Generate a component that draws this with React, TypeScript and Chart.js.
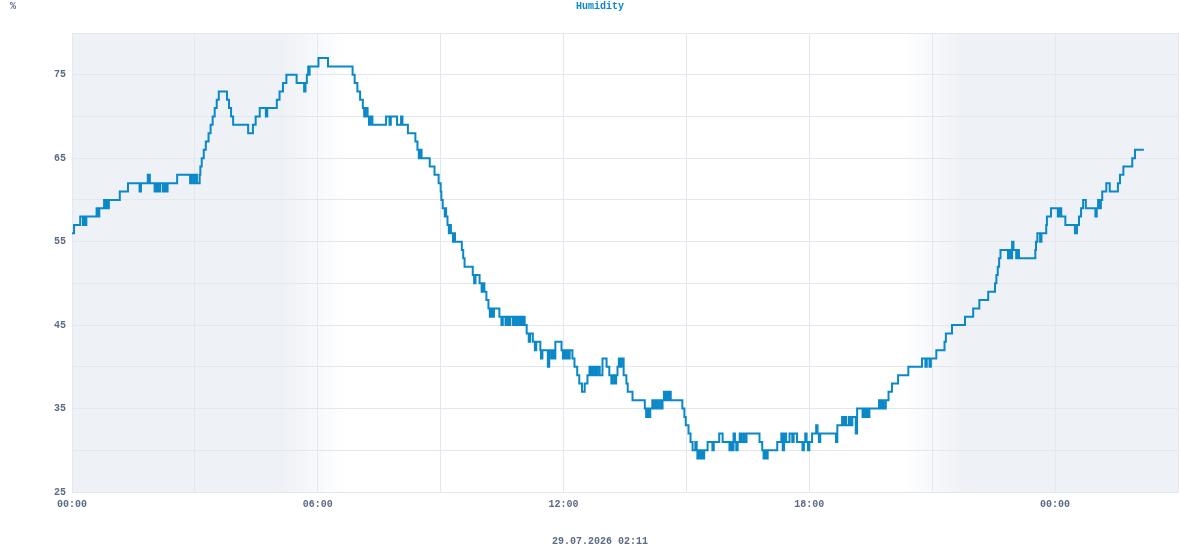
import React, { useEffect, useRef } from "react";
import { Chart, registerables } from "chart.js";

Chart.register(...registerables);

const TITLE = "Humidity";
const UNIT = "%";
const STAMP = "29.07.2026 02:11";

// minutes since 00:00 of the first day
const minutes = [
  0, 3, 12, 16, 18, 20, 21, 36, 38, 40, 47, 49, 51, 53, 54, 70, 82, 99, 101, 111,
  114, 121, 124, 126, 129, 133, 136, 138, 140, 154, 173, 175, 178, 180, 183, 187, 188, 190, 193, 196,
  200, 203, 206, 209, 212, 215, 227, 230, 233, 236, 258, 265, 269, 275, 284, 286, 300, 304, 309, 314,
  329, 340, 342, 344, 346, 347, 348, 361, 375, 411, 414, 418, 422, 426, 428, 430, 433, 435, 437, 440,
  460, 465, 467, 476, 482, 484, 492, 503, 506, 508, 510, 512, 524, 531, 537, 540, 541, 543, 546, 547,
  548, 550, 552, 554, 555, 558, 559, 561, 571, 573, 575, 587, 589, 591, 597, 600, 602, 604, 607, 610,
  612, 614, 616, 618, 626, 629, 631, 635, 637, 640, 642, 646, 648, 651, 653, 656, 658, 660, 661, 663,
  666, 669, 671, 675, 678, 680, 686, 687, 689, 697, 699, 702, 704, 706, 708, 717, 719, 721, 723, 725,
  727, 729, 733, 736, 740, 743, 747, 751, 755, 758, 760, 762, 764, 766, 768, 770, 773, 777, 783, 787,
  790, 792, 795, 797, 799, 801, 803, 805, 808, 812, 814, 821, 839, 841, 843, 845, 847, 850, 852, 855,
  857, 860, 863, 865, 867, 869, 871, 873, 875, 877, 894, 897, 899, 903, 906, 909, 913, 915, 916, 918,
  920, 922, 924, 926, 931, 938, 940, 948, 953, 963, 965, 967, 969, 971, 973, 975, 978, 980, 983, 985,
  988, 1007, 1011, 1013, 1015, 1017, 1019, 1033, 1039, 1041, 1043, 1046, 1051, 1055, 1057, 1062, 1070, 1072, 1074, 1076,
  1078, 1080, 1084, 1090, 1092, 1094, 1096, 1119, 1121, 1128, 1130, 1132, 1134, 1138, 1140, 1143, 1148, 1150, 1158, 1160,
  1162, 1164, 1166, 1168, 1182, 1185, 1187, 1189, 1192, 1196, 1201, 1210, 1225, 1245, 1250, 1252, 1256, 1258, 1266, 1278,
  1280, 1289, 1308, 1320, 1329, 1342, 1352, 1354, 1356, 1358, 1360, 1371, 1373, 1375, 1377, 1379, 1383, 1385, 1387, 1411,
  1412, 1414, 1418, 1420, 1427, 1428, 1434, 1444, 1446, 1449, 1455, 1469, 1472, 1475, 1478, 1481, 1485, 1499, 1501, 1503,
  1505, 1507, 1509, 1515, 1520, 1532, 1535, 1540, 1553, 1557, 1570,
];

const humidity = [
  56, 57, 58, 57, 58, 57, 58, 59, 58, 59, 60, 59, 60, 59, 60, 61, 62, 61, 62, 63,
  62, 61, 62, 61, 62, 61, 62, 61, 62, 63, 62, 63, 62, 63, 62, 63, 64, 65, 66, 67,
  68, 69, 70, 71, 72, 73, 72, 71, 70, 69, 68, 69, 70, 71, 70, 71, 72, 73, 74, 75,
  74, 73, 74, 75, 76, 75, 76, 77, 76, 75, 74, 73, 72, 71, 70, 71, 70, 69, 70, 69,
  70, 69, 70, 69, 70, 69, 68, 67, 66, 65, 66, 65, 64, 63, 62, 61, 60, 59, 58, 59,
  58, 57, 56, 57, 56, 55, 56, 55, 54, 53, 52, 51, 50, 51, 50, 49, 50, 49, 48, 47,
  46, 47, 46, 47, 46, 45, 46, 45, 46, 45, 46, 45, 46, 45, 46, 45, 46, 45, 46, 45,
  44, 43, 44, 43, 42, 43, 42, 41, 42, 40, 42, 41, 42, 41, 43, 42, 41, 42, 41, 42,
  41, 42, 41, 40, 39, 38, 37, 38, 39, 40, 39, 40, 39, 40, 39, 40, 39, 41, 40, 39,
  38, 39, 38, 39, 40, 41, 40, 41, 39, 38, 37, 36, 35, 34, 35, 34, 35, 36, 35, 36,
  35, 36, 35, 36, 37, 36, 37, 36, 37, 36, 35, 34, 33, 32, 31, 30, 31, 30, 29, 30,
  29, 30, 29, 30, 31, 30, 31, 32, 31, 30, 31, 30, 32, 31, 30, 31, 32, 31, 32, 31,
  32, 31, 30, 29, 30, 29, 30, 31, 32, 30, 32, 31, 32, 31, 32, 31, 30, 31, 32, 31,
  30, 31, 32, 33, 32, 31, 32, 31, 33, 34, 33, 34, 33, 34, 33, 34, 32, 35, 34, 35,
  34, 35, 34, 35, 36, 35, 36, 35, 36, 37, 38, 39, 40, 41, 40, 41, 40, 41, 42, 43,
  44, 45, 46, 47, 48, 49, 50, 51, 52, 53, 54, 53, 54, 53, 55, 54, 53, 54, 53, 54,
  55, 56, 55, 56, 57, 58, 59, 58, 59, 58, 57, 56, 57, 58, 59, 60, 59, 58, 59, 60,
  59, 60, 61, 62, 61, 62, 63, 64, 65, 66, 66,
];

// x axis range (minutes) and y axis range (%)
const xRange = [0, 1620];
const yRange = [25, 80];
// night shading: [solid start, fade start, fade end] and [fade start, fade end, solid end] in minutes
const nightMorning = [0, 309, 400];
const nightEvening = [1219, 1304, 1620];

const FONT = "bold 10px 'Liberation Mono', 'Courier New', monospace";
const TEXT_COLOR = "#5b6b87";
const LINE_COLOR = "#0a88c8";
const GRID_COLOR = "#e3e7ef";
const SHADE = "rgba(238,241,246,1)";
const SHADE0 = "rgba(238,241,246,0)";

function fmtTime(v: number) {
  const h = Math.floor(v / 60) % 24;
  const m = Math.round(v % 60);
  return String(h).padStart(2, "0") + ":" + String(m).padStart(2, "0");
}

const shadePlugin = {
  id: "nightShade",
  beforeDraw(chart: any) {
    const { ctx, chartArea, scales } = chart;
    const xs = scales.x;
    const top = chartArea.top;
    const h = chartArea.bottom - chartArea.top;
    ctx.save();
    const a0 = xs.getPixelForValue(nightMorning[0]);
    const a1 = xs.getPixelForValue(nightMorning[1]);
    const a2 = xs.getPixelForValue(nightMorning[2]);
    ctx.fillStyle = SHADE;
    ctx.fillRect(a0, top, a1 - a0, h);
    let g = ctx.createLinearGradient(a1, 0, a2, 0);
    g.addColorStop(0, SHADE);
    g.addColorStop(1, SHADE0);
    ctx.fillStyle = g;
    ctx.fillRect(a1, top, a2 - a1, h);
    const b0 = xs.getPixelForValue(nightEvening[0]);
    const b1 = xs.getPixelForValue(nightEvening[1]);
    const b2 = xs.getPixelForValue(nightEvening[2]);
    g = ctx.createLinearGradient(b0, 0, b1, 0);
    g.addColorStop(0, SHADE0);
    g.addColorStop(1, SHADE);
    ctx.fillStyle = g;
    ctx.fillRect(b0, top, b1 - b0, h);
    ctx.fillStyle = SHADE;
    ctx.fillRect(b1, top, b2 - b1, h);
    ctx.restore();
  },
  afterDraw(chart: any) {
    const { ctx } = chart;
    ctx.save();
    ctx.font = FONT;
    ctx.textBaseline = "middle";
    ctx.fillStyle = TEXT_COLOR;
    ctx.textAlign = "left";
    ctx.fillText(UNIT, 10, 6);
    ctx.textAlign = "center";
    ctx.fillText(STAMP, 600, 541);
    ctx.fillStyle = LINE_COLOR;
    ctx.fillText(TITLE, 600, 6);
    ctx.restore();
  },
};

export default function App() {
  const ref = useRef<HTMLCanvasElement>(null);
  useEffect(() => {
    if (!ref.current) return;
    const points = minutes.map((m, i) => ({ x: m, y: humidity[i] }));
    const chart = new Chart(ref.current, {
      type: "line",
      data: {
        datasets: [
          {
            data: points,
            borderColor: LINE_COLOR,
            borderWidth: 2,
            pointRadius: 0,
            stepped: true,
            fill: false,
            tension: 0,
          },
        ],
      },
      options: {
        animation: false,
        responsive: false,
        layout: { padding: { left: 0, top: 33, right: 22, bottom: 0 } },
        plugins: {
          legend: { display: false },
          tooltip: { enabled: false },
          title: { display: false },
        },
        scales: {
          x: {
            type: "linear",
            min: xRange[0],
            max: xRange[1],
            afterFit(scale: any) {
              scale.height = 58;
            },
            grid: { color: GRID_COLOR, drawTicks: false, lineWidth: 1 },
            border: { color: GRID_COLOR },
            ticks: {
              stepSize: 180,
              autoSkip: false,
              maxRotation: 0,
              padding: 6,
              color: TEXT_COLOR,
              font: { family: "'Liberation Mono', 'Courier New', monospace", size: 10, weight: "bold" },
              callback: (v: any) => (Number(v) % 360 === 0 ? fmtTime(Number(v)) : ""),
            },
          },
          y: {
            min: yRange[0],
            max: yRange[1],
            afterFit(scale: any) {
              scale.width = 72;
            },
            grid: { color: GRID_COLOR, drawTicks: false, lineWidth: 1 },
            border: { color: GRID_COLOR },
            ticks: {
              stepSize: 5,
              autoSkip: false,
              padding: 6,
              color: TEXT_COLOR,
              font: { family: "'Liberation Mono', 'Courier New', monospace", size: 10, weight: "bold" },
              callback: (v: any) => ((Number(v) - 25) % 10 === 0 && Number(v) < 80 ? String(v) : ""),
            },
          },
        },
      },
      plugins: [shadePlugin],
    });
    return () => chart.destroy();
  }, []);
  return (
    <div style={{ position: "absolute", left: 0, top: 0, width: 1200, height: 550 }}>
      <canvas ref={ref} width={1200} height={550} />
    </div>
  );
}
